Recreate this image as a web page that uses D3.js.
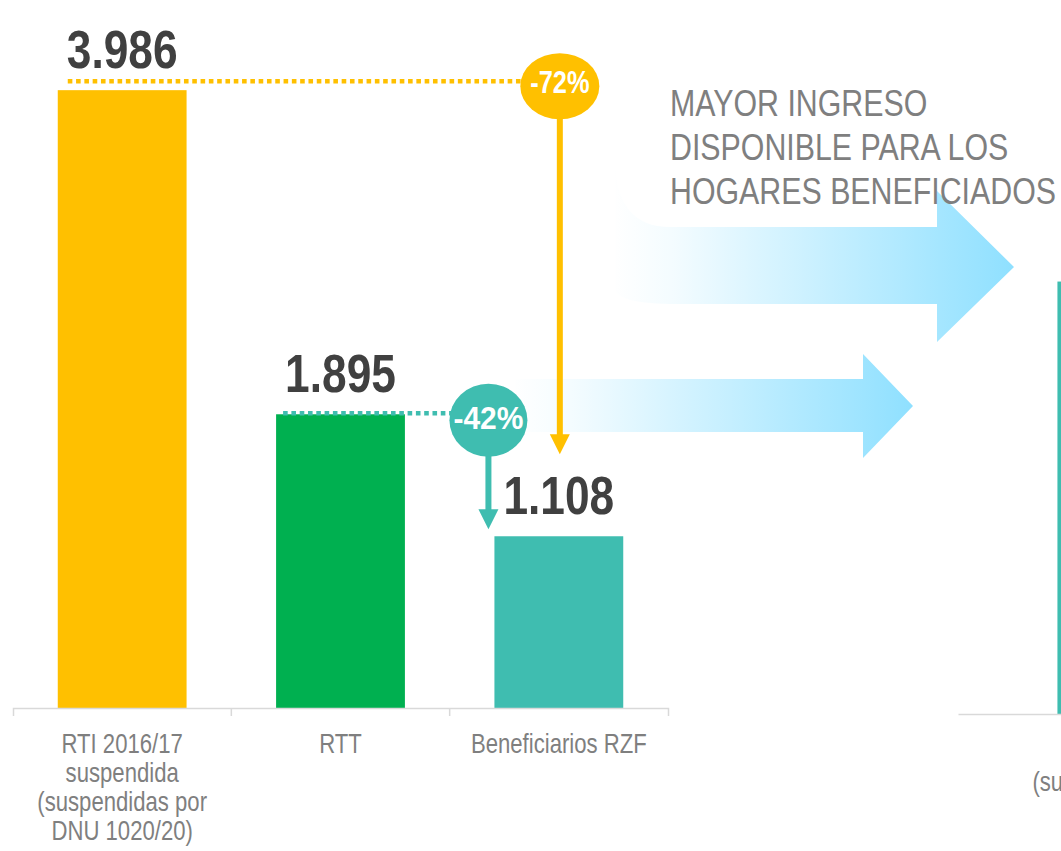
<!DOCTYPE html>
<html><head><meta charset="utf-8">
<script src="https://cdn.jsdelivr.net/npm/d3@7"></script>
<style>body{margin:0;background:#fff;overflow:hidden} svg{display:block}</style>
</head><body>
<svg id="chart" width="1061" height="851"></svg>
<script>
// ---------- DATA ----------
const categories = ["RTI 2016/17 suspendida (suspendidas por DNU 1020/20)", "RTT", "Beneficiarios RZF"];
const categoryLines = [["RTI 2016/17", "suspendida", "(suspendidas por", "DNU 1020/20)"], ["RTT"], ["Beneficiarios RZF"]];
const values = [3986, 1895, 1108];
const valueLabels = ["3.986", "1.895", "1.108"];
const barColors = ["#FFC000", "#00B050", "#3FBDB0"];
const changeFrom = [0, 1];
const changeTo = [2, 2];
const changeLabels = ["-72%", "-42%"];
const changeColors = ["#FFC000", "#3FBDB0"];
const calloutLines = ["MAYOR INGRESO", "DISPONIBLE PARA LOS", "HOGARES BENEFICIADOS"];
// second chart (cropped at the right edge of the picture)
const categories2 = ["(suspendidas por DNU"];
const values2 = [2790];

// ---------- FONT ----------
function fontAvailable(f) {
  const c = document.createElement("canvas").getContext("2d");
  const s = "Beneficiarios RZF 3.986 HOGARES";
  c.font = "40px monospace"; const a = c.measureText(s).width;
  c.font = `40px '${f}', monospace`; const b = c.measureText(s).width;
  return Math.abs(a - b) > 0.5;
}
const hasNarrow = fontAvailable("Liberation Sans Narrow");
const FONT = hasNarrow ? "'Liberation Sans Narrow','Arial Narrow',sans-serif" : "'Liberation Sans',Arial,sans-serif";
const SX = hasNarrow ? 1 : 0.82;

const svg = d3.select("#chart");
function txt(parent, x, y, s, o) {
  return parent.append("text")
    .attr("transform", `translate(${x},${y}) scale(${SX},1)`)
    .attr("text-anchor", o.anchor || "middle")
    .attr("font-family", FONT)
    .attr("font-size", o.size)
    .attr("font-weight", o.weight || "normal")
    .attr("fill", o.fill)
    .text(s);
}

// ---------- SCALES ----------
const baseY = 708;
const x = d3.scaleBand().domain(categories).range([13, 668]).paddingInner(0.41).paddingOuter(0.205);
const y = d3.scaleLinear().domain([0, 4000]).range([baseY, 88]);

// ---------- DECORATIVE BLUE ARROWS ----------
const defs = svg.append("defs");
function grad(id, x1, x2) {
  const g = defs.append("linearGradient").attr("id", id)
    .attr("gradientUnits", "userSpaceOnUse").attr("x1", x1).attr("x2", x2).attr("y1", 0).attr("y2", 0);
  g.append("stop").attr("offset", 0).attr("stop-color", "#8FE0FF").attr("stop-opacity", 0);
  g.append("stop").attr("offset", 0.15).attr("stop-color", "#8FE0FF").attr("stop-opacity", 0.1);
  g.append("stop").attr("offset", 1).attr("stop-color", "#8FE0FF").attr("stop-opacity", 1);
}
grad("gTop", 612, 1014);
grad("gBot", 512, 913);
svg.append("path")
  .attr("d", "M615,160 Q616,227 670,227 L937,227 L937,191 L1014,267 L937,342 L937,304 L678,304 Q615,304 615,288 Z")
  .attr("fill", "url(#gTop)");
svg.append("path")
  .attr("d", "M515,379 L863,379 L863,354 L913,406 L863,458 L863,432 L515,432 Z")
  .attr("fill", "url(#gBot)");

// callout text
const co = svg.append("g");
calloutLines.forEach((l, i) => txt(co, 670, 116 + i * 44, l, { size: 37, fill: "#7F7F7F", anchor: "start" }));

// ---------- BARS ----------
const data = categories.map((c, i) => ({ c, v: values[i], lab: valueLabels[i], col: barColors[i] }));
svg.append("g").selectAll("rect").data(data).join("rect")
  .attr("x", d => x(d.c)).attr("width", x.bandwidth())
  .attr("y", d => y(d.v)).attr("height", d => baseY - y(d.v))
  .attr("fill", d => d.col);

// ---------- AXIS ----------
const ax = svg.append("g").attr("transform", `translate(0,${baseY})`)
  .call(d3.axisBottom(x).tickSize(0).tickSizeOuter(8).tickFormat(""));
ax.select(".domain").attr("stroke", "#D9D9D9").attr("stroke-width", 1.5);
const gap = x.step() - x.bandwidth();
categories.slice(1).forEach(c => {
  ax.append("line").attr("x1", x(c) - gap / 2).attr("x2", x(c) - gap / 2)
    .attr("y1", 0).attr("y2", 8).attr("stroke", "#D9D9D9").attr("stroke-width", 1.5);
});
categories.forEach((c, i) => {
  const cx = x(c) + x.bandwidth() / 2;
  categoryLines[i].forEach((l, j) => txt(svg, cx, 753 + j * 29, l, { size: 27, fill: "#7F7F7F" }));
});

// ---------- CHANGE ANNOTATIONS ----------
const ann = svg.append("g");
function change(i, o) {
  const f = data[changeFrom[i]], t = data[changeTo[i]];
  const ly = y(f.v) + o.lineOff;
  const cx = o.cx(t);
  const cy = ly + o.cyOff;
  const tipY = y(t.v) + o.tipOff;
  const col = changeColors[i];
  ann.append("line").attr("x1", x(f.c) + o.lineStart).attr("x2", cx - 36).attr("y1", ly).attr("y2", ly)
    .attr("stroke", col).attr("stroke-width", 4.5).attr("stroke-dasharray", "4.6,3.7");
  ann.append("line").attr("x1", cx).attr("x2", cx).attr("y1", cy).attr("y2", tipY - 18)
    .attr("stroke", col).attr("stroke-width", 6);
  ann.append("path").attr("d", `M${cx - 10},${tipY - 20} L${cx + 10},${tipY - 20} L${cx},${tipY} Z`).attr("fill", col);
  ann.append("ellipse").attr("cx", cx).attr("cy", cy).attr("rx", o.rx).attr("ry", o.ry).attr("fill", col);
  const t2 = txt(ann, cx, cy + o.textOff, changeLabels[i], { size: 31, weight: "bold", fill: "#FFFFFF" });
  if (o.textLen) t2.attr("textLength", o.textLen / SX).attr("lengthAdjust", "spacingAndGlyphs");
}
change(0, { lineOff: -9, lineStart: 10, cyOff: 5, tipOff: -82, rx: 39.5, ry: 33, textOff: 7,
  cx: t => x(t.c) + x.bandwidth() / 2 + 1 });
change(1, { lineOff: -1, lineStart: 7, cyOff: 7, tipOff: -7, rx: 39, ry: 36.5, textOff: 8.5, textLen: 70,
  cx: t => x(t.c) - 6 });

// value labels
data.forEach(d => txt(svg, x(d.c) + x.bandwidth() / 2, y(d.v) - 22, d.lab, { size: 54, weight: "bold", fill: "#404040" }));

// ---------- SECOND (CROPPED) CHART ----------
const baseY2 = 714;
const x2 = d3.scaleBand().domain(categories2).range([958, 1306]).padding(0.4);
const y2 = d3.scaleLinear().domain([0, 4000]).range([baseY2, baseY2 - 620]);
svg.append("g").selectAll("rect").data(categories2).join("rect")
  .attr("x", d => x2(d)).attr("width", x2.bandwidth())
  .attr("y", (d, i) => y2(values2[i])).attr("height", (d, i) => baseY2 - y2(values2[i]))
  .attr("fill", "#3FBDB0");
const ax2 = svg.append("g").attr("transform", `translate(0,${baseY2})`)
  .call(d3.axisBottom(x2).tickSize(0).tickSizeOuter(0).tickFormat(""));
ax2.select(".domain").attr("stroke", "#D9D9D9").attr("stroke-width", 1.5);
categories2.forEach(c => {
  txt(svg, x2(c) - 25, 791, c, { size: 27, fill: "#7F7F7F", anchor: "start" });
});
</script>
</body></html>
